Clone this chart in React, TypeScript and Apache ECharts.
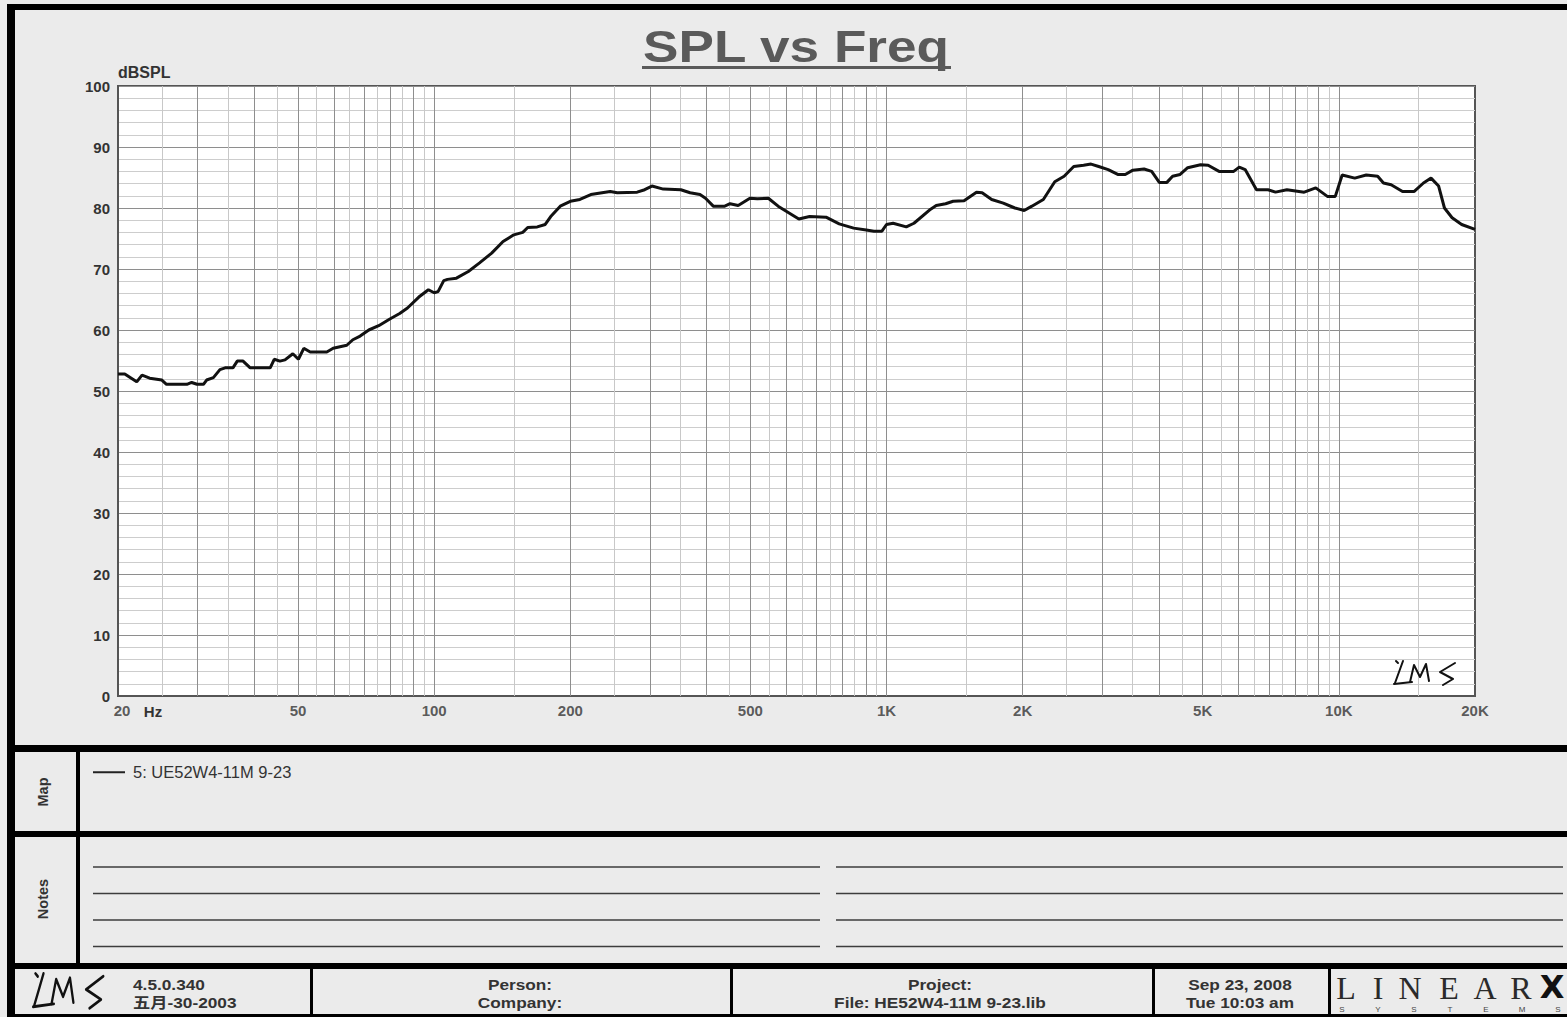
import React, { useEffect, useRef } from 'react';
import * as echarts from 'echarts';

// ---------- data ----------
const FREQ_HZ = [
  20, 20.7, 22, 22.6, 23.5, 25, 25.6, 28.4, 29.1, 29.9,
  30.9, 31.4, 32.5, 33.6, 34.5, 35.9, 36.7, 37.8, 39.2, 43.4,
  44.3, 45.6, 46.8, 48.7, 50.1, 51.5, 53.2, 57.9, 59.8, 64.1,
  66.1, 68.6, 71.7, 75.4, 79.8, 83.9, 87.3, 92.5, 97.1, 100,
  102, 105, 107, 112, 119, 126, 134, 142, 150, 157,
  161, 169, 176, 181, 190, 200, 210, 222, 235, 245,
  254, 281, 292, 303, 321, 351, 368, 387, 398, 414,
  439, 451, 470, 499, 518, 548, 576, 599, 640, 676,
  735, 786, 846, 902, 938, 977, 1000, 1034, 1106, 1150,
  1252, 1288, 1351, 1404, 1484, 1581, 1627, 1708, 1812, 1922,
  2016, 2096, 2222, 2355, 2470, 2594, 2727, 2833, 2945, 3091,
  3245, 3372, 3505, 3710, 3857, 4009, 4168, 4290, 4458, 4633,
  4947, 5141, 5435, 5855, 6023, 6207, 6575, 6973, 7245, 7677,
  8384, 8892, 9432, 9822, 10172, 10844, 11497, 12187, 12550, 13050,
  13831, 14660, 15385, 15990, 16620, 17120, 17800, 18685, 20000,
];
const SPL_DB = [
  52.8, 52.8, 51.5, 52.6, 52.1, 51.8, 51.1, 51.1, 51.4, 51.1,
  51.1, 51.8, 52.2, 53.5, 53.8, 53.8, 54.9, 54.9, 53.8, 53.8,
  55.2, 54.9, 55.1, 56.1, 55.2, 57.0, 56.4, 56.4, 57.0, 57.5,
  58.4, 59.0, 60.0, 60.7, 61.8, 62.7, 63.6, 65.4, 66.6, 66.1,
  66.3, 68.1, 68.3, 68.5, 69.6, 71.0, 72.6, 74.5, 75.6, 76.0,
  76.8, 76.9, 77.3, 78.6, 80.3, 81.1, 81.4, 82.2, 82.5, 82.7,
  82.5, 82.6, 83.0, 83.6, 83.1, 83.0, 82.5, 82.2, 81.6, 80.3,
  80.3, 80.7, 80.4, 81.6, 81.5, 81.6, 80.3, 79.5, 78.2, 78.6,
  78.5, 77.4, 76.7, 76.4, 76.2, 76.2, 77.3, 77.5, 76.9, 77.5,
  79.8, 80.4, 80.7, 81.1, 81.2, 82.6, 82.5, 81.4, 80.8, 80.0,
  79.6, 80.3, 81.4, 84.3, 85.2, 86.8, 87.0, 87.2, 86.8, 86.3,
  85.5, 85.5, 86.2, 86.4, 86.0, 84.2, 84.2, 85.2, 85.5, 86.6,
  87.1, 87.0, 86.0, 86.0, 86.7, 86.3, 83.0, 83.0, 82.6, 83.0,
  82.6, 83.3, 81.9, 81.9, 85.4, 84.9, 85.4, 85.2, 84.1, 83.8,
  82.7, 82.7, 84.1, 84.9, 83.6, 80.0, 78.4, 77.3, 76.5,
];
const SERIES_NAME = '5: UE52W4-11M 9-23';

const X_MIN = 20;
const X_MAX = 20000;
const X_TICK_VALUES = [20, 50, 100, 200, 500, 1000, 2000, 5000, 10000, 20000];
const X_TICK_LABELS = ['20', '50', '100', '200', '500', '1K', '2K', '5K', '10K', '20K'];
const GRID_MAJOR_HZ = [30, 40, 50, 60, 70, 80, 90, 100, 200, 300, 400, 500, 600, 700, 800, 900,
  1000, 2000, 3000, 4000, 5000, 6000, 7000, 8000, 9000, 10000];
const GRID_MINOR_HZ = [25, 35, 45, 55, 65, 75, 85, 95, 150, 250, 350, 450, 550, 650, 750, 850, 950,
  1500, 2500, 3500, 4500, 5500, 6500, 7500, 8500, 9500, 15000];
const Y_MIN = 0;
const Y_MAX = 100;
const Y_STEP = 10;

const TITLE = 'SPL vs Freq';
const Y_NAME = 'dBSPL';
const X_UNIT = 'Hz';
const FOOTER_VERSION = ['4.5.0.340', '五月-30-2003'];
const FOOTER_PERSON = ['Person:', 'Company:'];
const FOOTER_PROJECT = ['Project:', 'File: HE52W4-11M 9-23.lib'];
const FOOTER_DATE = ['Sep 23, 2008', 'Tue 10:03 am'];
const LOGO_WORD = ['L', 'I', 'N', 'E', 'A', 'R'];
const LOGO_SUB = ['S', 'Y', 'S', 'T', 'E', 'M', 'S'];

// ---------- styling helpers ----------
const FONT = "'Liberation Sans', Arial, 'Noto Sans CJK SC', sans-serif";
const SERIF = "'Liberation Serif', 'DejaVu Serif', serif";
const TXT = '#333333';

const blk = (x: number, y: number, w: number, h: number) => ({
  type: 'rect', silent: true, shape: { x, y, width: w, height: h }, style: { fill: '#000' },
});
const hline = (x1: number, x2: number, y: number) => ({
  type: 'line', silent: true, shape: { x1, y1: y, x2, y2: y }, style: { stroke: '#3c3c3c', lineWidth: 1.5 },
});
const txt = (text: string, x: number, y: number, o: any = {}) => ({
  type: 'text', silent: true, x, y, scaleX: o.scaleX ?? 1, rotation: o.rotation ?? 0, z: o.z ?? 10,
  style: {
    text, fill: o.fill ?? TXT, font: `${o.weight ?? 'bold'} ${o.size ?? 15}px ${o.family ?? FONT}`,
    textAlign: o.align ?? 'left', textVerticalAlign: 'middle',
  },
});
const lms = (x: number, y: number, sx: number, sy: number, w: number) => {
  const strokes = [
    [[3, 1], [5, 3]],
    [[10, 1], [6, 12], [2, 23]],
    [[1, 24], [19, 22]],
    [[17, 22], [21, 5], [27, 17], [33, 4], [36, 21]],
    [[62, 3], [47, 12], [60, 19], [50, 25]],
  ];
  return {
    type: 'group', x, y, scaleX: sx, scaleY: sy, z: 100, silent: true,
    children: strokes.map((pts) => ({
      type: 'polyline', z: 100, shape: { points: pts },
      style: { stroke: '#111', lineWidth: w, fill: 'none', lineJoin: 'round', lineCap: 'round' },
    })),
  };
};

function buildGraphics() {
  const els: any[] = [];
  // frame
  els.push(blk(7, 4, 1560, 6), blk(7, 4, 8, 1013));
  els.push(blk(7, 745, 1560, 7), blk(7, 831, 1560, 6), blk(7, 963, 1560, 6), blk(7, 1014, 1560, 3));
  els.push(blk(76, 752, 4, 211));
  els.push(blk(310, 969, 3, 45), blk(730, 969, 3, 45), blk(1152, 969, 3, 45), blk(1328, 969, 3, 45));
  // title
  els.push(txt(TITLE, 796, 46, { size: 45, align: 'center', fill: '#5a5a5a', scaleX: 1.18 }));
  els.push({ type: 'rect', silent: true, shape: { x: 642, y: 66, width: 309, height: 3 }, style: { fill: '#5a5a5a' } });
  // x unit
  els.push(txt(X_UNIT, 153, 711, { align: 'center' }));
  // side labels
  els.push(txt('Map', 43, 792, { size: 14.5, align: 'center', rotation: Math.PI / 2 }));
  els.push(txt('Notes', 43, 899, { size: 14.5, align: 'center', rotation: Math.PI / 2 }));
  // notes lines
  [867, 893.5, 920, 946.5].forEach((y) => { els.push(hline(93, 820, y), hline(836, 1563, y)); });
  // footer
  els.push(lms(32, 972, 1.15, 1.45, 2));
  els.push(txt(FOOTER_VERSION[0], 133, 984, { scaleX: 1.15 }), txt(FOOTER_VERSION[1], 133, 1002, { scaleX: 1.15 }));
  els.push(txt(FOOTER_PERSON[0], 520, 984, { align: 'center', scaleX: 1.15 }), txt(FOOTER_PERSON[1], 520, 1002, { align: 'center', scaleX: 1.15 }));
  els.push(txt(FOOTER_PROJECT[0], 940, 984, { align: 'center', scaleX: 1.15 }), txt(FOOTER_PROJECT[1], 940, 1002, { align: 'center', scaleX: 1.15 }));
  els.push(txt(FOOTER_DATE[0], 1240, 984, { align: 'center', scaleX: 1.15 }), txt(FOOTER_DATE[1], 1240, 1002, { align: 'center', scaleX: 1.15 }));
  // LINEAR X logo
  const lx = [1346, 1378, 1410, 1449, 1485, 1521];
  LOGO_WORD.forEach((c, i) => els.push(txt(c, lx[i], 988, { size: 32, weight: 'normal', family: SERIF, align: 'center', fill: '#2a2a2a' })));
  els.push(txt('X', 1552, 987, { size: 32, weight: 'bold', family: "'DejaVu Sans', sans-serif", align: 'center', fill: '#111' }));
  LOGO_SUB.forEach((c, i) => els.push(txt(c, 1342 + i * 36, 1009.5, { size: 8, weight: 'normal', align: 'center', fill: '#444' })));
  // plot logo
  els.push(lms(1393, 660, 1, 1, 2));
  return els;
}

export default function App() {
  const ref = useRef<HTMLDivElement>(null);
  useEffect(() => {
    if (!ref.current) return;
    const chart = echarts.init(ref.current, null, { renderer: 'svg' });
    const option: any = {
      animation: false,
      backgroundColor: '#ebebeb',
      grid: {
        left: 118, top: 86, width: 1357, height: 610, show: true,
        backgroundColor: '#ffffff', borderColor: '#555', borderWidth: 2,
      },
      legend: {
        show: true, left: 93, top: 764, padding: 0, itemWidth: 32, itemHeight: 2, icon: 'rect',
        data: [SERIES_NAME],
        itemStyle: { color: '#222' },
        textStyle: { color: TXT, fontSize: 16.5, fontFamily: FONT, padding: [0, 0, 0, 3] },
        selectedMode: false,
      },
      xAxis: {
        type: 'log', logBase: 10, min: X_MIN, max: X_MAX,
        axisLine: { show: true, lineStyle: { color: '#555', width: 2 } },
        axisTick: { show: false }, axisLabel: { show: false },
        splitLine: { show: false }, minorSplitLine: { show: false },
      },
      yAxis: {
        type: 'value', min: Y_MIN, max: Y_MAX, interval: Y_STEP,
        name: Y_NAME, nameLocation: 'end', nameGap: 6,
        nameTextStyle: { align: 'left', color: TXT, fontWeight: 'bold', fontSize: 16, fontFamily: FONT },
        axisLine: { show: true, lineStyle: { color: '#555', width: 2 } },
        axisTick: { show: false },
        axisLabel: { color: TXT, fontWeight: 'bold', fontSize: 15, fontFamily: FONT, margin: 8 },
        splitLine: { show: true, lineStyle: { color: '#8e8e8e', width: 1 } },
        minorTick: { show: false, splitNumber: 5 },
        minorSplitLine: { show: true, lineStyle: { color: '#cdcdcd', width: 1 } },
      },
      series: [
        {
          name: 'ticks', type: 'scatter', silent: true, clip: false, z: 3,
          symbol: 'circle', symbolSize: 1, itemStyle: { color: 'transparent' },
          data: X_TICK_VALUES.map((v, i) => (i === 0
            ? { value: [v, Y_MIN], label: { offset: [4, 0] } }
            : { value: [v, Y_MIN] })),
          label: {
            show: true, position: 'bottom', distance: 6,
            formatter: (p: any) => X_TICK_LABELS[p.dataIndex],
            color: TXT, fontWeight: 'bold', fontSize: 15, fontFamily: FONT,
          },
          markLine: {
            silent: true, symbol: ['none', 'none'], label: { show: false }, z: 1,
            emphasis: { disabled: true },
            data: [
              ...GRID_MINOR_HZ.map((v) => ({ xAxis: v, lineStyle: { color: '#c8c8c8', width: 1, type: 'solid' } })),
              ...GRID_MAJOR_HZ.map((v) => ({ xAxis: v, lineStyle: { color: '#8e8e8e', width: 1, type: 'solid' } })),
            ],
          },
        },
        {
          name: SERIES_NAME, type: 'line', z: 10, silent: true, symbol: 'none', showSymbol: false,
          itemStyle: { color: '#111' },
          lineStyle: { color: '#111', width: 3 },
          data: FREQ_HZ.map((f, i) => [f, SPL_DB[i]]),
        },
      ],
      graphic: { elements: buildGraphics() },
    };
    chart.setOption(option);
    return () => chart.dispose();
  }, []);
  return <div ref={ref} style={{ position: 'absolute', left: 0, top: 0, width: 1567, height: 1017 }} />;
}
